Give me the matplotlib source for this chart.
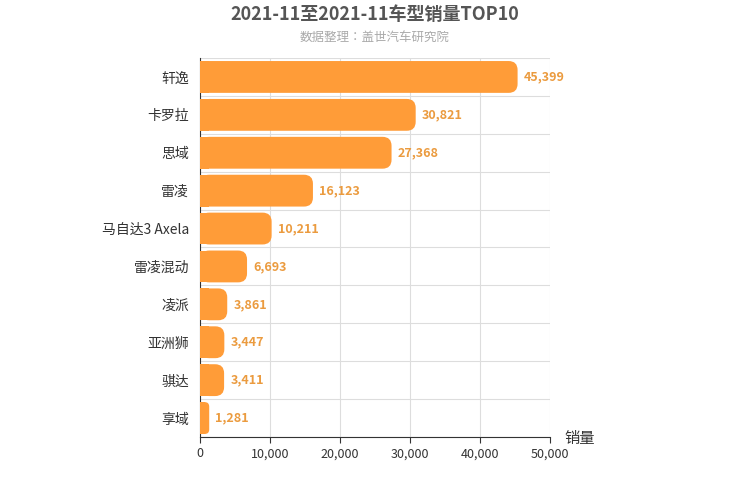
import matplotlib
matplotlib.use("Agg")
import matplotlib.pyplot as plt
from matplotlib import font_manager
from matplotlib.patches import FancyBboxPatch, Rectangle

cjk = sorted({f.name for f in font_manager.fontManager.ttflist if "CJK" in f.name})
plt.rcParams["font.family"] = ["Noto Sans CJK SC"] + cjk + ["DejaVu Sans"]

models = ["轩逸", "卡罗拉", "思域", "雷凌", "马自达3 Axela", "雷凌混动", "凌派", "亚洲狮", "骐达", "享域"]
sales = [45399, 30821, 27368, 16123, 10211, 6693, 3861, 3447, 3411, 1281]

bar_color = "#ff9c38"
label_color = "#eb9b3f"

fig = plt.figure(figsize=(7.5, 5), dpi=100)
ax = fig.add_axes([0.267, 0.126, 0.466, 0.758])
ax.set_xlim(0, 50000)
ax.set_ylim(len(models) - 0.5, -0.5)

h = 0.84
# pixel -> data unit conversion for the rounded corners
ux = 50000 / 350.0
uy = 10 / 379.0
for i, v in enumerate(sales):
    r = min(9, v / ux / 2)  # corner radius in px
    pad = r * ux
    w = max(v - 2 * pad, 1)
    box = FancyBboxPatch((pad, i - h / 2 + r * uy), w, h - 2 * r * uy,
                         boxstyle=f"round,pad={pad}", mutation_aspect=uy / ux,
                         fc=bar_color, ec="none", zorder=3)
    ax.add_patch(box)
    ax.add_patch(Rectangle((0, i - h / 2), pad, h, fc=bar_color, ec="none", zorder=3))
    ax.text(v + 900, i, f"{v:,}", va="center", ha="left", fontsize=9,
            color=label_color, fontweight="bold", zorder=4)

ax.set_yticks(range(len(models)))
ax.set_yticklabels(models, fontsize=10, color="#333333")
ax.set_xticks(range(0, 50001, 10000))
ax.set_xticklabels([f"{t:,}" for t in range(0, 50001, 10000)], fontsize=9, color="#333333")
ax.set_yticks([i + 0.5 for i in range(-1, len(models))], minor=True)
ax.grid(True, which="minor", axis="y", color="#dddddd", lw=0.8)
ax.grid(True, which="major", axis="x", color="#dddddd", lw=0.8)
ax.tick_params(axis="y", which="both", length=0)
ax.tick_params(axis="y", which="major", pad=8)
ax.tick_params(axis="x", length=4, color="#333333")
ax.set_axisbelow(True)
for s in ["top", "right"]:
    ax.spines[s].set_visible(False)
ax.spines["left"].set_color("#333333")
ax.spines["bottom"].set_color("#333333")

fig.text(0.5, 0.972, "2021-11至2021-11车型销量TOP10", ha="center", va="center",
         fontsize=13, fontweight="bold", color="#555555")
fig.text(0.5, 0.925, "数据整理：盖世汽车研究院", ha="center", va="center",
         fontsize=9, color="#aaaaaa")
fig.text(0.753, 0.123, "销量", ha="left", va="center", fontsize=11, color="#333333")

fig.savefig("out.png", dpi=100)
